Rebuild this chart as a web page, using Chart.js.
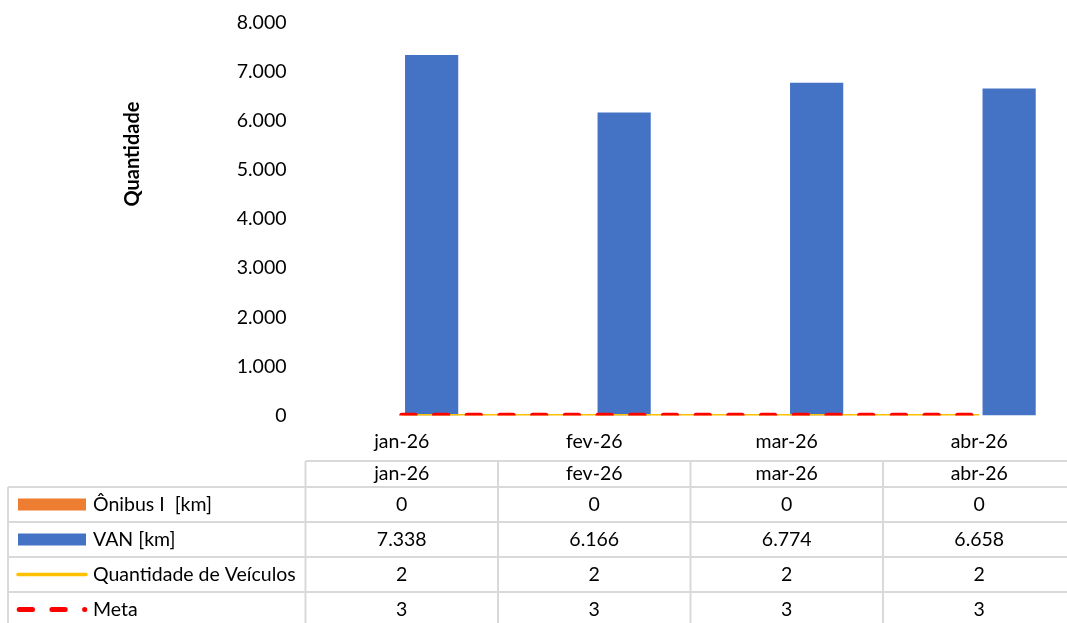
<!DOCTYPE html>
<html>
<head>
<meta charset="utf-8">
<script src="https://cdn.jsdelivr.net/npm/chart.js@4/dist/chart.umd.min.js"></script>
<style>
  html, body { margin: 0; padding: 0; background: #fff; overflow: hidden; }
  #wrap { position: relative; width: 1080px; height: 623px; }
</style>
</head>
<body>
<div id="wrap"><canvas id="chart"></canvas></div>
<script>
// data
const months = ["jan-26", "fev-26", "mar-26", "abr-26"];
const onibusKm = [0, 0, 0, 0];
const vanKm = [7338, 6166, 6774, 6658];
const qtdVeiculos = [2, 2, 2, 2];
const meta = [3, 3, 3, 3];
const yMin = 0;
const yMax = 8000;
const yStep = 1000;
const yTitle = "Quantidade";

const FONT = "Lato";
const SIZE = 19.5;
const fmt = (v) => String(v).replace(/\B(?=(\d{3})+(?!\d))/g, ".");

// data table under the plot, with legend keys in the first column
const dataTable = {
  id: "dataTable",
  afterDraw(chart) {
    const ctx = chart.ctx;
    const xs = chart.scales.x;
    const step = xs.width / months.length;
    const tableLeft = 8;
    const headTop = 461;
    const headBottom = 487;
    const rowH = 35;
    const bottom = chart.height;

    ctx.save();
    // grid
    ctx.strokeStyle = "#d9d9d9";
    ctx.lineWidth = 2;
    ctx.beginPath();
    ctx.moveTo(xs.left, headTop);
    ctx.lineTo(xs.right + 10, headTop);
    for (let r = 0; r < 4; r++) {
      const y = headBottom + r * rowH;
      ctx.moveTo(tableLeft, y);
      ctx.lineTo(xs.right + 10, y);
    }
    ctx.moveTo(tableLeft, headBottom);
    ctx.lineTo(tableLeft, bottom);
    for (let i = 0; i <= months.length; i++) {
      const x = xs.left + i * step;
      ctx.moveTo(x, headTop);
      ctx.lineTo(x, bottom);
    }
    ctx.stroke();

    // header + values
    ctx.fillStyle = "#000";
    ctx.font = SIZE + "px " + FONT;
    ctx.textAlign = "center";
    ctx.textBaseline = "middle";
    months.forEach((m, i) => {
      ctx.fillText(m, xs.getPixelForValue(i), (headTop + headBottom) / 2);
    });
    chart.data.datasets.forEach((ds, r) => {
      const cy = headBottom + r * rowH + rowH / 2;
      ds.data.forEach((v, i) => {
        ctx.fillText(fmt(v), xs.getPixelForValue(i), cy);
      });
    });

    // legend keys
    ctx.textAlign = "left";
    chart.data.datasets.forEach((ds, r) => {
      const cy = headBottom + r * rowH + rowH / 2;
      if (ds.type === "bar") {
        ctx.fillStyle = ds.backgroundColor;
        ctx.fillRect(18, cy - 6, 68, 12);
      } else {
        ctx.strokeStyle = ds.borderColor;
        ctx.lineWidth = ds.borderDash ? ds.borderWidth : 3.5;
        ctx.lineCap = "round";
        ctx.setLineDash(ds.borderDash || []);
        ctx.beginPath();
        ctx.moveTo(ds.borderDash ? 19.2 : 18, cy);
        ctx.lineTo(ds.borderDash ? 84.8 : 86, cy);
        ctx.stroke();
        ctx.setLineDash([]);
      }
      ctx.fillStyle = "#000";
      ctx.fillText(ds.label, 93, cy);
    });

    // y axis title
    ctx.translate(133, 154);
    ctx.rotate(-Math.PI / 2);
    ctx.textAlign = "center";
    ctx.font = "bold 20px " + FONT;
    ctx.fillText(yTitle, 0, 0);
    ctx.restore();
  }
};

new Chart(document.getElementById("chart"), {
  data: {
    labels: months,
    datasets: [
      {
        type: "bar",
        label: "Ônibus I  [km]",
        data: onibusKm,
        backgroundColor: "#ED7D31",
        categoryPercentage: 0.621,
        barPercentage: 0.89,
        order: 2,
      },
      {
        type: "bar",
        label: "VAN [km]",
        data: vanKm,
        backgroundColor: "#4472C4",
        categoryPercentage: 0.621,
        barPercentage: 0.89,
        order: 3,
      },
      {
        type: "line",
        label: "Quantidade de Veículos",
        data: qtdVeiculos,
        borderColor: "#FFC000",
        borderWidth: 3,
        pointRadius: 0,
        order: 1,
      },
      {
        type: "line",
        label: "Meta",
        data: meta,
        borderColor: "#FF0000",
        borderWidth: 5,
        borderDash: [13.3, 19.4],
        borderCapStyle: "round",
        pointRadius: 0,
        order: 0,
      },
    ],
  },
  options: {
    responsive: true,
    maintainAspectRatio: false,
    animation: false,
    layout: { padding: { top: 22.5, right: 4.5, left: 0, bottom: 0 } },
    plugins: {
      legend: { display: false },
      tooltip: { enabled: false },
    },
    scales: {
      x: {
        offset: true,
        grid: { display: false, drawTicks: false },
        border: { display: false },
        ticks: { color: "#000", font: { family: FONT, size: SIZE }, padding: 15 },
        afterFit: (s) => {
          s.height = 207.5;
          s.paddingLeft = 0;
          s.paddingRight = 0;
        },
      },
      y: {
        min: yMin,
        max: yMax,
        grid: { display: false, drawTicks: false },
        border: { display: false },
        ticks: {
          stepSize: yStep,
          color: "#000",
          font: { family: FONT, size: SIZE },
          padding: 19,
          callback: (v) => fmt(v),
        },
        afterFit: (s) => {
          s.width = 305.5;
          s.paddingTop = 0;
          s.paddingBottom = 0;
        },
      },
    },
  },
  plugins: [dataTable],
});
</script>
</body>
</html>
